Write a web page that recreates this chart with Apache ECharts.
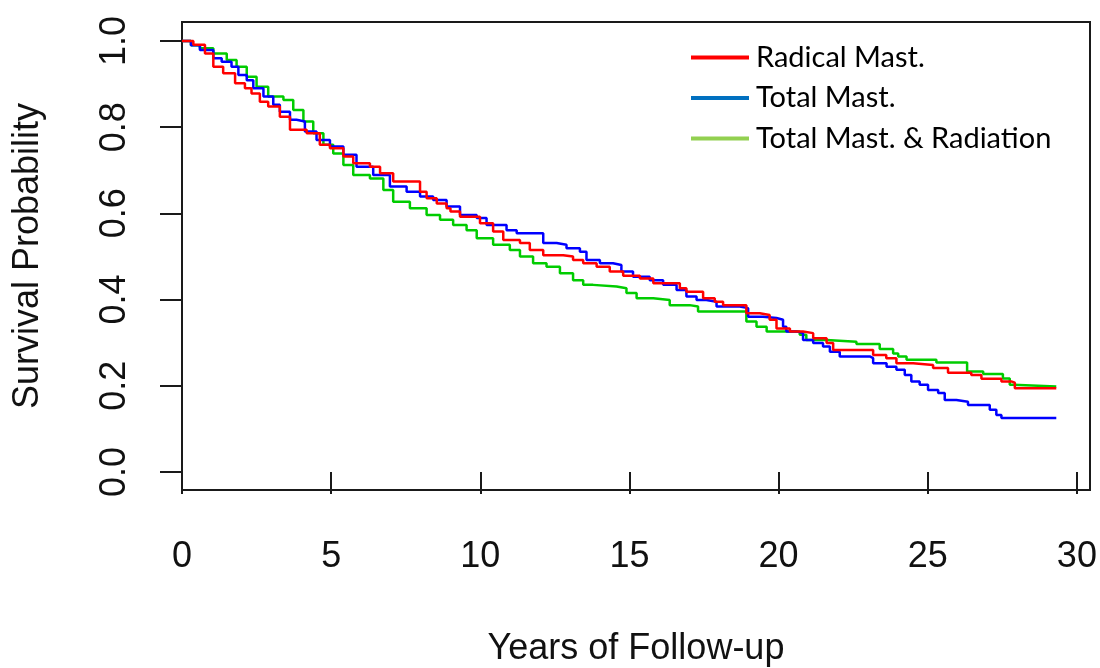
<!DOCTYPE html>
<html>
<head>
<meta charset="utf-8">
<script src="https://cdn.jsdelivr.net/npm/echarts@6/dist/echarts.min.js"></script>
<style>
  html, body { margin: 0; padding: 0; background: #fff; }
  #chart { width: 1100px; height: 668px; }
</style>
</head>
<body>
<div id="chart"></div>
<script>
// Kaplan-Meier steps: [years, survival probability]
const radicalMast = [
  [0, 1.0], [0.38, 0.991], [0.77, 0.971], [1.05, 0.940], [1.38, 0.925], [1.78, 0.902],
  [2.11, 0.890], [2.33, 0.878], [2.61, 0.859], [2.89, 0.848], [3.28, 0.824], [3.62, 0.794],
  [4.18, 0.786], [4.62, 0.759], [4.96, 0.751], [5.41, 0.732], [5.74, 0.716], [6.30, 0.708],
  [6.64, 0.693], [7.08, 0.674], [7.98, 0.650], [8.20, 0.635], [8.54, 0.623], [8.87, 0.612],
  [9.00, 0.604], [9.32, 0.592], [9.99, 0.577], [10.43, 0.558], [10.77, 0.538], [11.33, 0.531],
  [11.66, 0.515], [12.11, 0.503], [12.78, 0.500], [13.11, 0.492], [13.45, 0.484], [13.90, 0.476],
  [14.34, 0.465], [14.79, 0.455], [15.35, 0.449], [15.80, 0.438], [16.69, 0.426], [16.91, 0.418],
  [17.47, 0.403], [17.86, 0.395], [18.14, 0.387], [18.92, 0.368], [19.37, 0.364], [19.70, 0.353],
  [19.93, 0.333], [20.38, 0.326], [20.82, 0.322], [21.16, 0.310], [21.61, 0.299], [21.83, 0.283],
  [23.17, 0.271], [23.61, 0.264], [23.95, 0.252], [24.51, 0.248], [25.18, 0.241], [25.68, 0.230],
  [26.46, 0.225], [26.80, 0.216], [27.47, 0.210], [27.80, 0.207], [27.92, 0.194], [29.31, 0.194]
];
const totalMast = [
  [0, 1.0], [0.30, 0.990], [0.60, 0.979], [1.05, 0.960], [1.33, 0.952], [1.66, 0.940],
  [1.89, 0.921], [2.17, 0.909], [2.39, 0.890], [2.73, 0.871], [3.06, 0.852], [3.28, 0.836],
  [3.62, 0.817], [3.84, 0.813], [4.12, 0.790], [4.51, 0.770], [4.96, 0.755], [5.41, 0.736],
  [5.85, 0.708], [6.41, 0.689], [6.97, 0.662], [7.53, 0.650], [7.98, 0.639], [8.42, 0.631],
  [8.87, 0.616], [9.32, 0.596], [9.88, 0.589], [10.21, 0.573], [10.88, 0.561], [11.22, 0.554],
  [12.11, 0.531], [12.56, 0.527], [12.89, 0.519], [13.34, 0.511], [13.56, 0.492], [14.01, 0.484],
  [14.45, 0.480], [14.73, 0.465], [15.12, 0.453], [15.68, 0.445], [16.13, 0.434], [16.58, 0.422],
  [16.91, 0.407], [17.25, 0.399], [17.58, 0.395], [17.92, 0.384], [18.70, 0.380], [18.98, 0.360],
  [19.48, 0.357], [19.93, 0.353], [20.15, 0.337], [20.26, 0.326], [20.60, 0.322], [20.82, 0.306],
  [21.16, 0.299], [21.49, 0.291], [21.72, 0.279], [22.05, 0.268], [23.06, 0.264], [23.17, 0.252],
  [23.62, 0.244], [23.95, 0.237], [24.23, 0.225], [24.45, 0.210], [24.73, 0.202], [25.01, 0.190],
  [25.35, 0.183], [25.57, 0.167], [25.96, 0.163], [26.35, 0.155], [27.08, 0.144], [27.30, 0.132],
  [27.47, 0.125], [29.31, 0.125]
];
const totalMastRadiation = [
  [0, 1.0], [0.30, 0.990], [0.60, 0.983], [1.05, 0.971], [1.50, 0.956], [1.83, 0.940],
  [2.17, 0.917], [2.50, 0.894], [2.89, 0.871], [3.40, 0.863], [3.73, 0.840], [4.07, 0.813],
  [4.40, 0.786], [4.74, 0.759], [5.07, 0.739], [5.41, 0.712], [5.74, 0.689], [6.30, 0.681],
  [6.75, 0.654], [7.08, 0.627], [7.64, 0.612], [8.20, 0.596], [8.65, 0.585], [9.09, 0.573],
  [9.54, 0.561], [9.88, 0.542], [10.43, 0.527], [10.99, 0.515], [11.33, 0.500], [11.77, 0.484],
  [12.22, 0.476], [12.67, 0.461], [13.11, 0.445], [13.45, 0.434], [13.78, 0.430], [14.57, 0.426],
  [14.90, 0.415], [15.24, 0.403], [15.80, 0.399], [16.35, 0.387], [17.02, 0.384], [17.30, 0.372],
  [18.92, 0.349], [19.26, 0.337], [19.60, 0.326], [20.71, 0.318], [20.93, 0.306], [21.61, 0.302],
  [22.61, 0.297], [23.39, 0.285], [23.84, 0.275], [24.01, 0.268], [24.29, 0.260], [25.29, 0.254],
  [26.32, 0.233], [26.86, 0.227], [27.52, 0.217], [27.75, 0.202], [27.86, 0.198], [29.31, 0.198]
];

const seriesNames = ['Radical Mast.', 'Total Mast.', 'Total Mast. & Radiation'];
const lineColors = ['#ff0000', '#0000ff', '#00cc00'];
const legendColors = ['#ff0000', '#0070c0', '#92d050'];
const xTicks = [0, 5, 10, 15, 20, 25, 30];
const yTicks = [0, 0.2, 0.4, 0.6, 0.8, 1.0];

const AXIS_FONT = '"Liberation Sans", Arial, sans-serif';

const chart = echarts.init(document.getElementById('chart'), null, { renderer: 'canvas' });

const option = {
  animation: false,
  backgroundColor: '#fff',
  grid: {
    left: 182, top: 22, width: 908, height: 468,
    show: true, borderColor: '#1a1a1a', borderWidth: 2,
    backgroundColor: 'transparent',
    containLabel: false,
    outerBoundsMode: 'none'
  },
  legend: {
    orient: 'vertical',
    left: 686, top: 38,
    itemWidth: 58, itemHeight: 30, itemGap: 11.5,
    textStyle: { fontFamily: 'Lato, "Open Sans", sans-serif', fontSize: 29, color: '#000', padding: [0, 0, 0, 2] },
    data: seriesNames.map((n, i) => ({
      name: n,
      icon: 'path://M0,0 L58,0 L58,4 L0,4 Z',
      itemStyle: { color: legendColors[i] }
    }))
  },
  xAxis: {
    type: 'value',
    min: 0, max: 30.44,
    splitLine: { show: false },
    axisLine: { show: false },
    axisTick: { show: true, inside: false, length: 22, customValues: xTicks, lineStyle: { color: '#1a1a1a', width: 2 } },
    axisLabel: { customValues: xTicks, margin: 49, fontSize: 36, fontFamily: AXIS_FONT, color: '#111' },
    name: 'Years of Follow-up',
    nameLocation: 'middle', nameGap: 141,
    nameTextStyle: { fontSize: 36, fontFamily: AXIS_FONT, color: '#111' }
  },
  yAxis: {
    type: 'value',
    min: -0.042, max: 1.044,
    splitLine: { show: false },
    axisLine: { show: false },
    axisTick: { show: true, inside: false, length: 22, customValues: yTicks, lineStyle: { color: '#1a1a1a', width: 2 } },
    axisLabel: {
      customValues: yTicks, rotate: 90, margin: 49, fontSize: 36, fontFamily: AXIS_FONT, color: '#111',
      formatter: v => v.toFixed(1)
    },
    name: 'Survival Probability',
    nameLocation: 'middle', nameGap: 136,
    nameTextStyle: { fontSize: 36, fontFamily: AXIS_FONT, color: '#111' }
  },
  series: [radicalMast, totalMast, totalMastRadiation].map((d, i) => ({
    name: seriesNames[i],
    type: 'line',
    step: 'end',
    symbol: 'none',
    data: d,
    itemStyle: { color: lineColors[i] },
    lineStyle: { color: lineColors[i], width: 2.5 },
    z: 3 - i
  }))
};

chart.setOption(option);
</script>
</body>
</html>
